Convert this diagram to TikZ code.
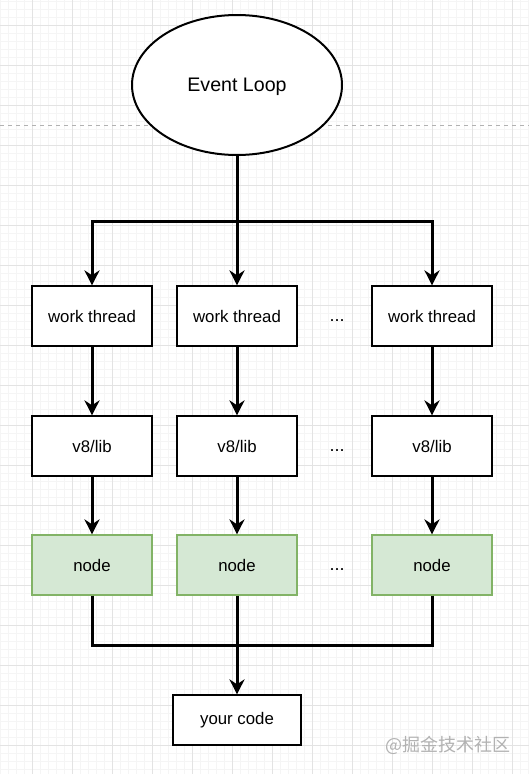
\documentclass[tikz,border=0pt]{standalone}
\usepackage{fontspec}
\setmainfont{Liberation Sans}
\newfontfamily\cjk{Noto Sans CJK SC}
\usetikzlibrary{arrows.meta,shapes.geometric}
\definecolor{nodefill}{HTML}{D5E8D4}
\definecolor{nodeline}{HTML}{82B366}
\tikzset{block/.style = {draw, fill=white, line width=1.2pt, rectangle, minimum height=60pt, minimum width=120pt, font=\fontsize{16.8}{20}\selectfont},
         greenblock/.style = {block, draw=nodeline, fill=nodefill},
         loopnode/.style = {draw, fill=white, line width=2pt, ellipse, minimum width=210pt, minimum height=140pt, text depth=0pt, font=\fontsize{19.6}{23}\selectfont},
         dotsnode/.style = {font=\fontsize{18}{20}\selectfont},
         wire/.style = {line width=3pt},
         flow/.style = {wire, -{Stealth[length=15pt,width=15pt]}},
         minorgrid/.style = {line width=0.5pt, black!4},
         majorgrid/.style = {line width=0.7pt, black!11}}

\begin{document}
\begin{tikzpicture}[x=1pt,y=-1pt]
    \useasboundingbox[fill=white](0,0) rectangle (529,774);
    % grid
    \foreach \x in {0,8,...,528} \draw[minorgrid](\x,0)--(\x,774);
    \foreach \y in {1,9,...,773} \draw[minorgrid](0,\y)--(529,\y);
    \foreach \x in {32,72,...,512} \draw[majorgrid](\x,0)--(\x,774);
    \foreach \y in {25,65,...,745} \draw[majorgrid](0,\y)--(529,\y);
    \draw[black!30, line width=0.8pt, dash pattern=on 4pt off 4pt](0,125)--(529,125);

    \node[loopnode](loop)at(237,85){Event Loop};

    \node[block](wt1)at(92,316){work thread};
    \node[block](wt2)at(237,316){work thread};
    \node[block](wt3)at(432,316){work thread};
    \node[dotsnode](d1)at(337,321){...};

    \node[block](v81)at(92,446){v8/lib};
    \node[block](v82)at(237,446){v8/lib};
    \node[block](v83)at(432,446){v8/lib};
    \node[dotsnode](d2)at(337,451){...};

    \node[greenblock](nd1)at(92,565){node};
    \node[greenblock](nd2)at(237,565){node};
    \node[greenblock](nd3)at(432,565){node};
    \node[dotsnode](d3)at(337,570){...};

    \node[block, minimum width=128pt, minimum height=50pt](code)at(237,720){your code};

    \coordinate(top)at(237,221);
    \coordinate(bot)at(237,645);

    \draw[wire](loop)--(top);
    \draw[flow](top)-|(wt1);
    \draw[flow](top)--(wt2);
    \draw[flow](top)-|(wt3);

    \draw[flow](wt1)--(v81);
    \draw[flow](wt2)--(v82);
    \draw[flow](wt3)--(v83);

    \draw[flow](v81)--(nd1);
    \draw[flow](v82)--(nd2);
    \draw[flow](v83)--(nd3);

    \draw[wire](nd1)|-(bot);
    \draw[wire](nd3)|-(bot);
    \draw[flow](nd2)--(code);

    \node[font=\cjk\fontsize{18}{20}\selectfont, text=black!30](mark)at(448,745){@掘金技术社区};
\end{tikzpicture}
\end{document}
